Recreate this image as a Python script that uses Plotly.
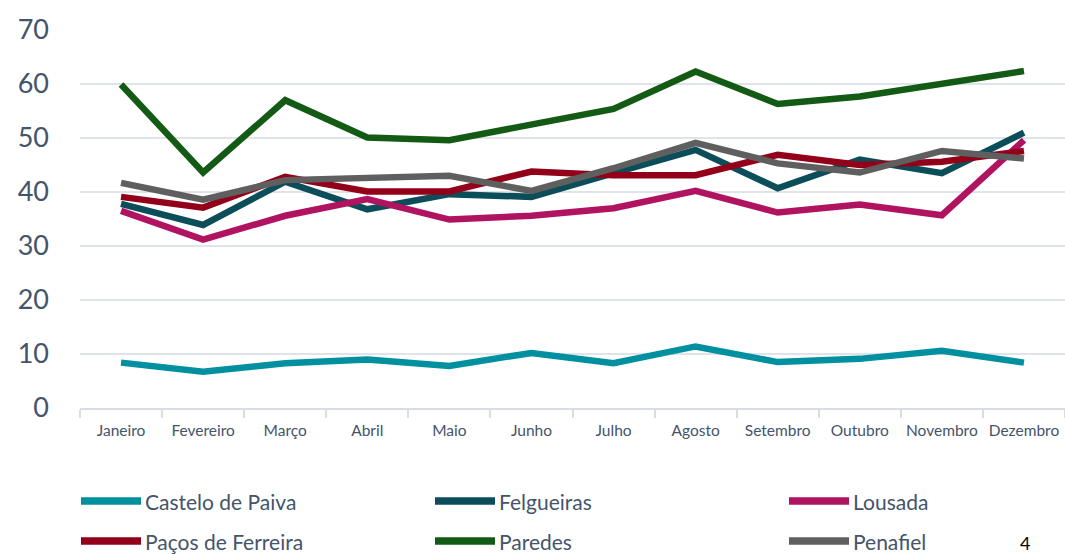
import plotly.graph_objects as go

months = ["Janeiro", "Fevereiro", "Março", "Abril", "Maio", "Junho",
          "Julho", "Agosto", "Setembro", "Outubro", "Novembro", "Dezembro"]

castelo_de_paiva = [8.4, 6.7, 8.3, 9.0, 7.8, 10.2, 8.3, 11.4, 8.5, 9.1, 10.6, 8.4]
felgueiras = [37.8, 33.9, 41.9, 36.8, 39.6, 39.1, 43.5, 47.8, 40.7, 46.0, 43.5, 51.0]
lousada = [36.5, 31.2, 35.6, 38.7, 34.9, 35.6, 37.0, 40.2, 36.2, 37.7, 35.7, 49.6]
pacos_de_ferreira = [39.1, 37.1, 42.8, 40.1, 40.1, 43.8, 43.1, 43.1, 46.9, 45.0, 45.6, 47.6]
paredes = [59.9, 43.6, 57.0, 50.1, 49.6, 52.5, 55.4, 62.3, 56.3, 57.7, 60.1, 62.4]
penafiel = [41.7, 38.6, 42.2, 42.5, 43.0, 40.2, 44.4, 49.1, 45.3, 43.6, 47.6, 46.2]

series_names = ["Castelo de Paiva", "Felgueiras", "Lousada",
                "Paços de Ferreira", "Paredes", "Penafiel"]
series_values = [castelo_de_paiva, felgueiras, lousada,
                 pacos_de_ferreira, paredes, penafiel]
series_colors = ["#0090a0", "#0b4d58", "#b0135f", "#930019", "#135b14", "#5f5f5f"]

y_ticks = [0, 10, 20, 30, 40, 50, 60, 70]

W, H = 1065, 554
PLOT_L, PLOT_R, PLOT_T, PLOT_B = 80, 1065, 30, 408  # page coords
ML = PLOT_L
MR = W - PLOT_R
MT = PLOT_T
MB = H - PLOT_B
PW = PLOT_R - PLOT_L
PH = PLOT_B - PLOT_T
TEXT = "#44546a"
FONT = "Lato, 'Open Sans', sans-serif"


def px_to_paper_x(px):
    return (px - PLOT_L) / PW


def px_to_paper_y(py):
    return (PLOT_B - py) / PH


fig = go.Figure()
for name, vals, col in zip(series_names, series_values, series_colors):
    fig.add_trace(go.Scatter(x=months, y=vals, name=name, mode="lines",
                             line=dict(color=col, width=6.5),
                             showlegend=False))

# custom legend (3 columns x 2 rows)
col_x = [80, 434, 788]
row_y = [501, 541]
shapes = []
annotations = []
for i, (name, col) in enumerate(zip(series_names, series_colors)):
    cx = col_x[i % 3]
    ry = row_y[i // 3]
    yp = px_to_paper_y(ry)
    shapes.append(dict(type="line", xref="paper", yref="paper",
                       x0=px_to_paper_x(cx + 1), x1=px_to_paper_x(cx + 61),
                       y0=yp, y1=yp,
                       line=dict(color=col, width=7.5)))
    annotations.append(dict(xref="paper", yref="paper",
                            x=px_to_paper_x(cx + 63), y=yp,
                            xanchor="left", yanchor="middle",
                            text=name, showarrow=False,
                            font=dict(family=FONT, size=21, color=TEXT)))

annotations.append(dict(xref="paper", yref="paper",
                        x=px_to_paper_x(1025), y=px_to_paper_y(543),
                        xanchor="center", yanchor="middle", text="4",
                        showarrow=False,
                        font=dict(family=FONT, size=18, color="#000000")))

fig.update_layout(
    width=W, height=H,
    margin=dict(l=ML, r=MR, t=MT, b=MB, pad=0),
    paper_bgcolor="white", plot_bgcolor="white",
    font=dict(family=FONT, color=TEXT),
    shapes=shapes, annotations=annotations,
    showlegend=False,
)
fig.update_xaxes(
    type="category", range=[-0.5, 11.5],
    showgrid=False, showline=True, linecolor="#d9dde3", linewidth=1.5,
    ticks="outside", tickson="boundaries", ticklen=8, tickcolor="#d9dde3",
    tickwidth=1.5, ticklabelstandoff=8,
    tickfont=dict(family=FONT, size=15.5, color=TEXT),
)
fig.update_yaxes(
    range=[0, 70], tickvals=y_ticks, ticktext=[str(v) for v in y_ticks],
    showgrid=True, gridcolor="#dfe3ea", gridwidth=1.5,
    zeroline=False, showline=False,
    ticks="", ticklabelstandoff=30,
    tickfont=dict(family=FONT, size=27, color=TEXT),
)

fig.write_html(
    "out.html",
    config={"displayModeBar": False},
    post_script="document.body.style.margin='0';document.body.style.overflow='hidden';",
)
